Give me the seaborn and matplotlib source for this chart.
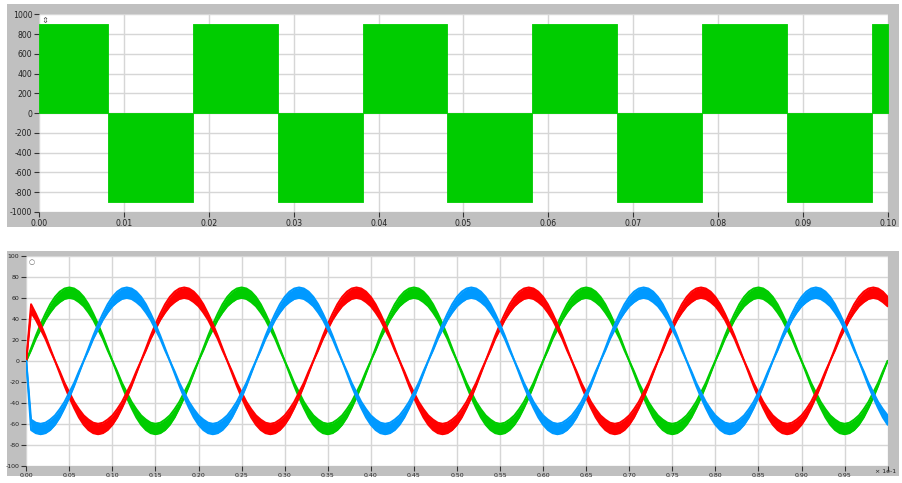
import numpy as np
import pandas as pd
import seaborn as sns
import matplotlib
matplotlib.use("Agg")
import matplotlib.pyplot as plt
from matplotlib.patches import Rectangle


# top panel: inverter output voltage, one solid block between two switching instants
switch_times = [0.0, 0.0081, 0.0181, 0.0281, 0.0381, 0.0481, 0.0581,
                0.0681, 0.0781, 0.0881, 0.0981, 0.10]
block_levels = [900, -900, 900, -900, 900, -900, 900, -900, 900, -900, 900]

# bottom panel: phase current ripple band, one cycle read every 10 deg
cycle_len = 0.2      # axis units (x 1e-1 s)
outer_half = [0, 12, 24, 35, 45, 54, 61, 66, 69, 70, 69, 66, 61, 54, 45, 35, 24, 12]
inner_half = [0, 10, 21, 30, 39, 46, 52, 56, 59, 60, 59, 56, 52, 46, 39, 30, 21, 10]
phase_names = ["a", "c", "b"]
phase_colors = ["#00cc00", "#ff0000", "#0099ff"]
phase_lag = [0, 24, 12]          # in 10 deg steps
starts_at_zero = [False, True, True]

top_yticks = list(range(-1000, 1001, 200))
top_xticks = [0.00, 0.01, 0.02, 0.03, 0.04, 0.05, 0.06, 0.07, 0.08, 0.09, 0.10]
bot_yticks = list(range(-100, 101, 20))
bot_xticks = [0.00, 0.05, 0.10, 0.15, 0.20, 0.25, 0.30, 0.35, 0.40, 0.45,
              0.50, 0.55, 0.60, 0.65, 0.70, 0.75, 0.80, 0.85, 0.90, 0.95]

sns.set_theme(style="whitegrid")
plt.rcParams['font.family'] = ['DejaVu Sans']

frame_gray = "#c0c0c0"
grid_gray = "#d6d6d6"

fig = plt.figure(figsize=(9.03, 4.83), dpi=100)
fig.patch.set_facecolor("white")
# grey instrument frames behind each plot
fig.patches.append(Rectangle((0.0078, 0.5306), 0.9878, 0.4605, transform=fig.transFigure,
                             facecolor=frame_gray, edgecolor="none", zorder=-10))
fig.patches.append(Rectangle((0.0078, 0.0145), 0.9878, 0.4658, transform=fig.transFigure,
                             facecolor=frame_gray, edgecolor="none", zorder=-10))


def style_axes(ax, size):
    ax.set_facecolor("white")
    for s in ax.spines.values():
        s.set_visible(False)
    ax.grid(True, color=grid_gray, linewidth=1.0)
    ax.tick_params(direction="out", length=3.5, width=0.8, color="#333333",
                   labelsize=size, labelcolor="#222222", pad=1.5,
                   bottom=True, left=True)


# ---- top: PWM voltage
ax1 = fig.add_axes([0.0435, 0.5611, 0.9395, 0.4093])
style_axes(ax1, 5.6)
for s, e, lv in zip(switch_times[:-1], switch_times[1:], block_levels):
    ax1.fill_between([s, e], 0, lv, color="#00cc00", linewidth=0.6, zorder=3)
ax1.set_xlim(0, 0.10)
ax1.set_ylim(-1000, 1000)
ax1.set_xticks(top_xticks)
ax1.set_xticklabels([f"{v:.2f}" for v in top_xticks])
ax1.set_yticks(top_yticks)
ax1.set_yticklabels([str(v) for v in top_yticks])
ax1.text(0.006, 0.99, "\u21d5", transform=ax1.transAxes, fontsize=6, color="#555555",
         ha="center", va="top", zorder=10)

# ---- bottom: three phase currents
upper_cycle = np.array(outer_half + [-v for v in inner_half])
lower_cycle = np.array(inner_half + [-v for v in outer_half])
n_step = len(upper_cycle)
k = np.arange(int(round(1.0 / cycle_len)) * n_step + 1)
t = k * cycle_len / n_step

rows = []
for name, lag, zero0 in zip(phase_names, phase_lag, starts_at_zero):
    idx = (k - lag) % n_step
    up = upper_cycle[idx].astype(float)
    lo = lower_cycle[idx].astype(float)
    if zero0:
        up[0] = 0.0
        lo[0] = 0.0
    rows.append(pd.DataFrame({"t": t, "upper": up, "lower": lo, "phase": name}))
df = pd.concat(rows, ignore_index=True)

ax2 = fig.add_axes([0.0291, 0.0358, 0.9539, 0.4342])
style_axes(ax2, 4.5)
for z, (name, col) in enumerate(zip(phase_names, phase_colors)):
    d = df[df["phase"] == name]
    ax2.fill_between(d["t"], d["lower"], d["upper"], color=col, linewidth=0, zorder=3 + z)
    sns.lineplot(data=d, x="t", y="upper", ax=ax2, color=col, linewidth=1.4, zorder=3 + z)
    sns.lineplot(data=d, x="t", y="lower", ax=ax2, color=col, linewidth=1.4, zorder=3 + z)
ax2.set_xlim(0, 1.0)
ax2.set_ylim(-100, 100)
ax2.set_xticks(bot_xticks + [1.0])
ax2.set_xticklabels([f"{v:.2f}" for v in bot_xticks] + [""])
ax2.set_yticks(bot_yticks)
ax2.set_yticklabels([str(v) for v in bot_yticks])
ax2.set_xlabel("")
ax2.set_ylabel("")
ax2.text(0.006, 0.985, "\u25cb", transform=ax2.transAxes, fontsize=5, color="#666666",
         ha="center", va="top", zorder=10)
fig.text(875 / 903, 1 - 471.5 / 483, "\u00d7 1e-1", fontsize=4.5, color="#222222",
         ha="left", va="center")

fig.savefig("out.png", dpi=100)
